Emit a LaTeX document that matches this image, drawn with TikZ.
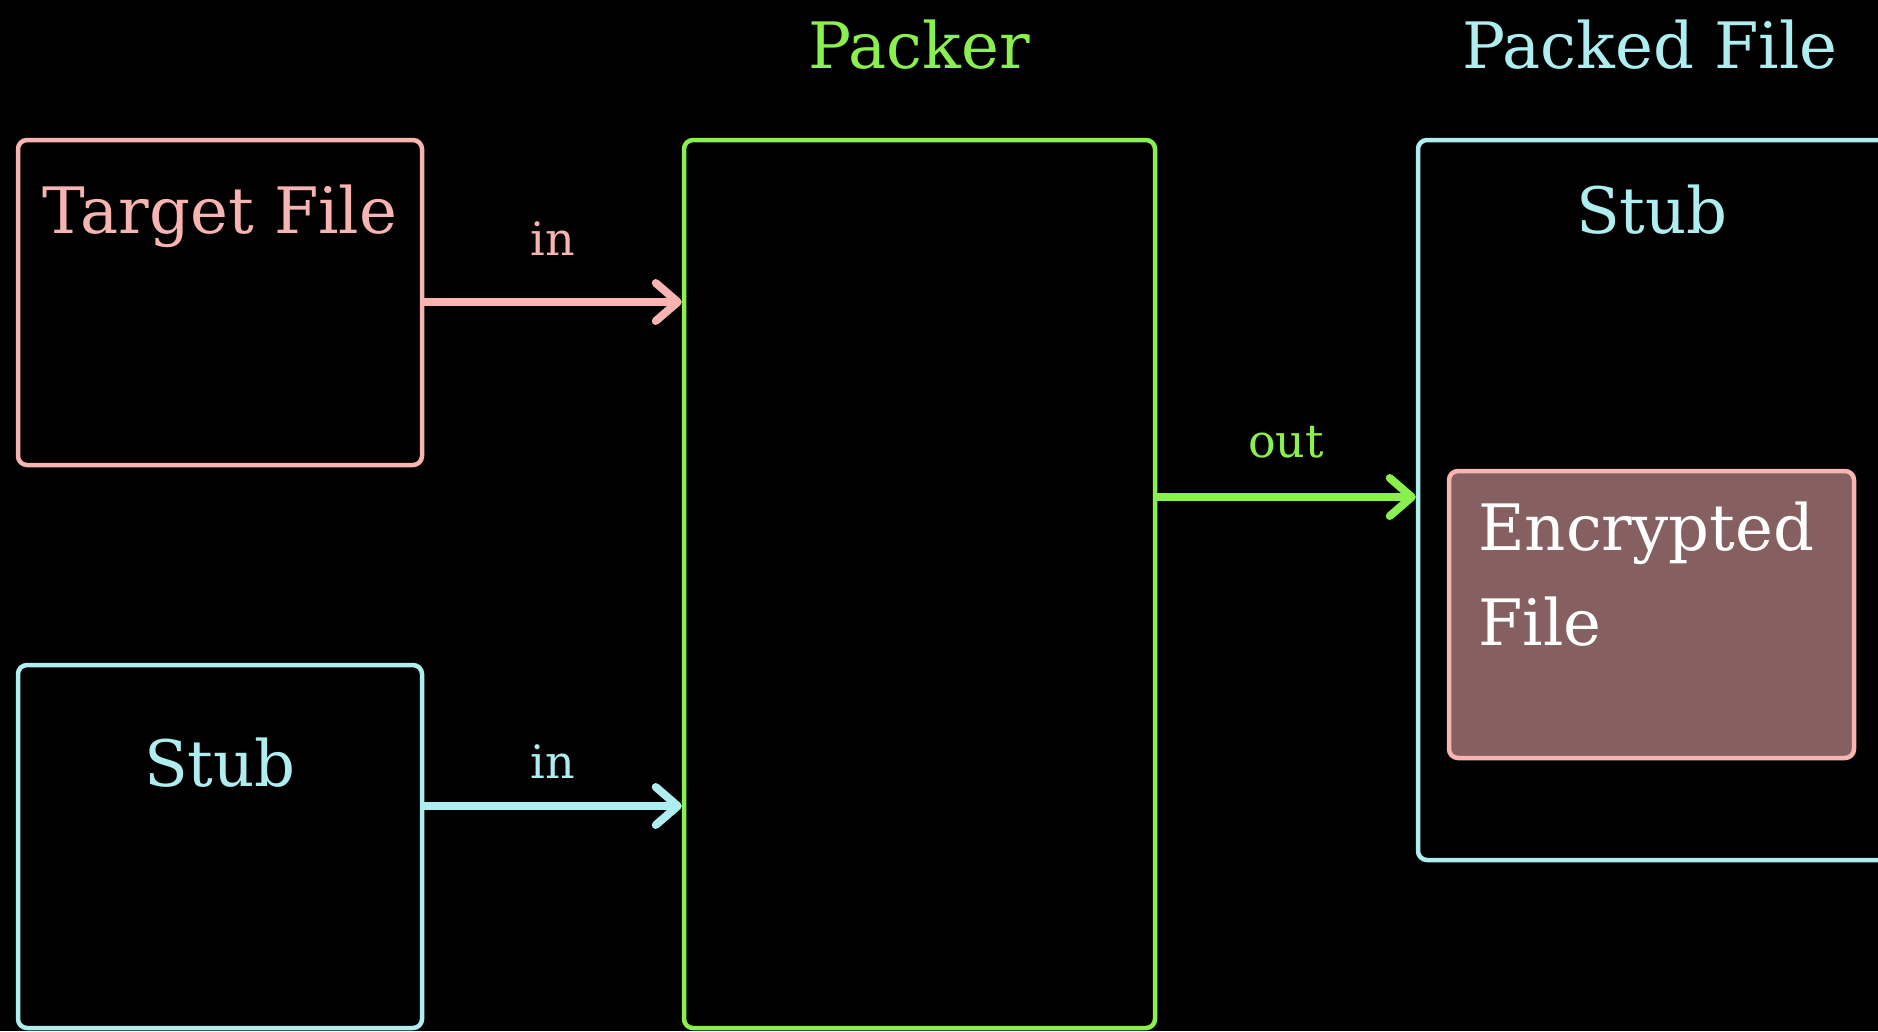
\documentclass[tikz,border=0pt]{standalone}
\usepackage{fontspec}
\setmainfont{DejaVu Serif}
\usetikzlibrary{arrows.meta}

\definecolor{pinkc}{RGB}{248,180,176}
\definecolor{cyanc}{RGB}{175,238,240}
\definecolor{greenc}{RGB}{137,240,80}
\definecolor{encfill}{RGB}{134,96,96}

\tikzset{
  box/.style={draw=#1, line width=4.5pt, rounded corners=9pt, inner sep=0pt, fill=black},
  biglbl/.style={inner sep=0pt, anchor=base, font=\fontsize{64}{95}\selectfont},
  smalllbl/.style={inner sep=0pt, anchor=base, font=\fontsize{46}{50}\selectfont},
  arr/.style={draw=#1, line width=8pt, line cap=round,
    -{Straight Barb[length=22pt,width=38pt,line cap=round,line join=round]}},
}

\begin{document}
\begin{tikzpicture}[x=1pt,y=-1pt]
  \useasboundingbox (0,0) rectangle (1878,1031);
  \fill[black] (0,0) rectangle (1878,1031);

  % input boxes
  \node[box=pinkc, minimum width=404pt, minimum height=325pt] (target) at (220,302.5) {};
  \node[box=cyanc, minimum width=404pt, minimum height=363pt] (stubin) at (220,846.5) {};
  % packer
  \node[box=greenc, minimum width=471pt, minimum height=888pt] (packer) at (919.5,584) {};
  % packed output file with embedded payload
  \node[box=cyanc, minimum width=482pt, minimum height=720pt] (packed) at (1659,500) {};
  \node[box=pinkc, fill=encfill, minimum width=405pt, minimum height=287pt] (enc) at (1651.5,614.5) {};

  % titles
  \node[biglbl, text=greenc] (packertitle) at (919,68) {Packer};
  \node[biglbl, text=cyanc] (packedtitle) at (1650,68) {Packed File};
  \node[biglbl, text=pinkc] (targettitle) at (220,233) {Target File};
  \node[biglbl, text=cyanc] (stubintitle) at (220,786) {Stub};
  \node[biglbl, text=cyanc] (stubouttitle) at (1652,233) {Stub};
  \node[biglbl, text=white, anchor=base west] (enc1) at (1478,550) {Encrypted};
  \node[biglbl, text=white, anchor=base west] (enc2) at (1478,645) {File};

  % connector rows
  \coordinate (rowA) at (0,302);
  \coordinate (rowB) at (0,806);
  \coordinate (rowC) at (0,497);

  \draw[arr=pinkc] (target.east |- rowA) -- (packer.west |- rowA);
  \draw[arr=cyanc] (stubin.east |- rowB) -- (packer.west |- rowB);
  \draw[arr=greenc] (packer.east |- rowC) -- (packed.west |- rowC);

  \node[smalllbl, text=pinkc] (inA) at (553,255) {in};
  \node[smalllbl, text=cyanc] (inB) at (553,778) {in};
  \node[smalllbl, text=greenc] (outC) at (1286,457) {out};
\end{tikzpicture}
\end{document}
